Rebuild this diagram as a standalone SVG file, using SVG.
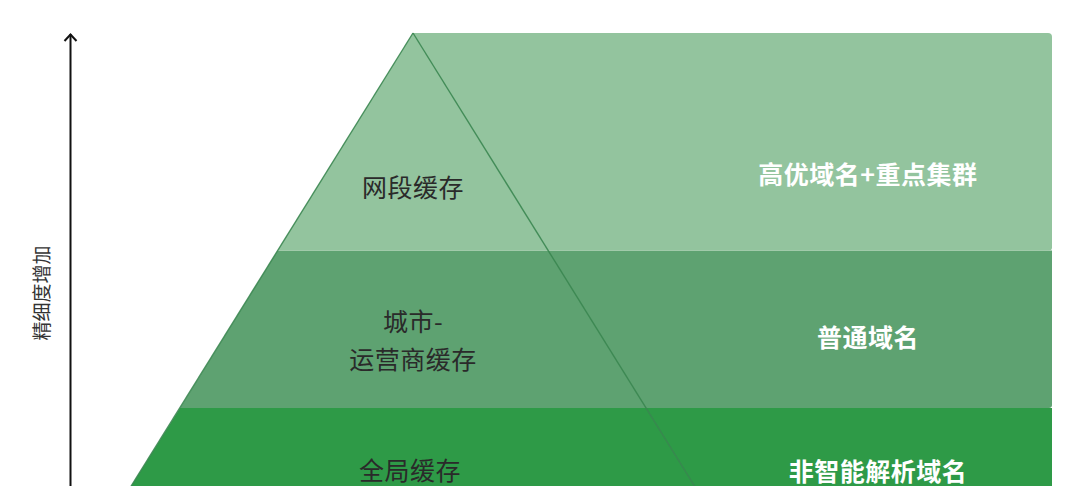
<svg xmlns="http://www.w3.org/2000/svg" width="1080" height="486" viewBox="0 0 1080 486">
  <style>
    .band-top { fill: #93c49e; }
    .band-mid { fill: #5ea271; }
    .band-bot { fill: #2e9a47; }
    .edge { fill: none; stroke: #3a8650; stroke-width: 1.4; stroke-opacity: 0.9; }
    .lbl-left { font-family: "Noto Sans CJK SC", "Noto Sans", sans-serif; font-size: 25px; fill: #2a2a2a; text-anchor: middle; letter-spacing: 0.5px; }
    .lbl-right { font-family: "Noto Sans CJK SC", "Noto Sans", sans-serif; font-size: 25px; font-weight: bold; fill: #ffffff; text-anchor: middle; letter-spacing: 0.5px; }
    .axis { fill: none; stroke: #111111; stroke-width: 2; }
    .axis-lbl { font-family: "Noto Sans CJK SC", "Noto Sans", sans-serif; font-size: 19px; fill: #333333; text-anchor: middle; }
  </style>

  <rect x="0" y="0" width="1080" height="486" fill="#ffffff"/>

  <g id="band-bottom">
    <path class="band-bot" d="M180,408 L1052,408 L1052,490 L128.7,490 Z"/>
    <text class="lbl-left" x="410" y="480">全局缓存</text>
    <text class="lbl-right" x="878" y="481">非智能解析域名</text>
  </g>

  <g id="band-middle">
    <path class="band-mid" d="M277.7,250.5 L1052,250.5 L1052,405 Q1052,408 1049,408 L180,408 Z"/>
    <text class="lbl-left" x="413" y="331">城市-</text>
    <text class="lbl-left" x="413" y="369">运营商缓存</text>
    <text class="lbl-right" x="868" y="347">普通域名</text>
  </g>

  <g id="band-top">
    <path class="band-top" d="M413,33 L1048,33 Q1052,33 1052,37 L1052,247.5 Q1052,250.5 1049,250.5 L277.7,250.5 Z"/>
    <text class="lbl-left" x="413" y="197">网段缓存</text>
    <text class="lbl-right" x="868" y="184">高优域名+重点集群</text>
  </g>

  <g id="connectors">
    <line class="edge" x1="413" y1="33" x2="128.7" y2="490" stroke-opacity="0.5"/>
    <line class="edge" x1="413" y1="33" x2="697" y2="490"/>
    <line class="axis" x1="70.5" y1="34" x2="70.5" y2="490"/>
    <polyline class="axis" points="64.5,41 70.5,34.5 76.5,41"/>
  </g>

  <g id="axis-label">
    <text class="axis-lbl" transform="translate(49,293) rotate(-90)">精细度增加</text>
  </g>
</svg>
